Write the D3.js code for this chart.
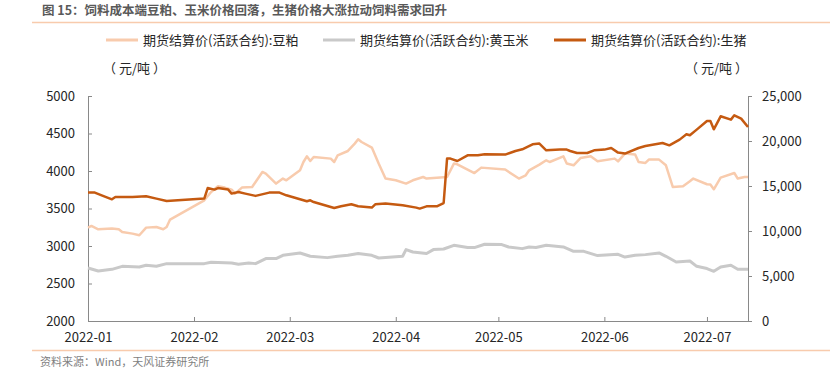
<!DOCTYPE html>
<html>
<head>
<meta charset="utf-8">
<script src="https://cdn.jsdelivr.net/npm/d3@7"></script>
<style>
  body { margin: 0; background: #fff; }
  svg { font-family: "Noto Sans CJK SC", "Noto Sans", sans-serif; }
</style>
</head>
<body>
<div id="plot_area"></div>
<script>
// Chart text
const title = '图 15：饲料成本端豆粕、玉米价格回落，生猪价格大涨拉动饲料需求回升';
const source = '资料来源：Wind，天风证券研究所';
const seriesNames = ['期货结算价(活跃合约):豆粕', '期货结算价(活跃合约):黄玉米', '期货结算价(活跃合约):生猪'];
const unitLabel = '（ 元/吨 ）';

// Axis ticks
const leftTicks = [2000, 2500, 3000, 3500, 4000, 4500, 5000];
const rightTicks = [0, 5000, 10000, 15000, 20000, 25000];
const monthTicks = ['2022-01-01', '2022-02-01', '2022-03-01', '2022-04-01', '2022-05-01', '2022-06-01', '2022-07-01'];

// Soybean meal (left axis)
const soyDates = ['01-01','01-02','01-04','01-08','01-10','01-11','01-14','01-16','01-18','01-21','01-23','01-24','01-25',
  '02-04','02-06','02-08','02-10','02-12','02-13','02-15','02-18','02-19','02-21','02-22','02-25','02-27','02-28',
  '03-02','03-04','03-05','03-06','03-07','03-08','03-13','03-14','03-15','03-18','03-20','03-21','03-22','03-25','03-27','03-29',
  '04-01','04-04','04-06','04-09','04-10','04-16','04-18','04-19','04-24','04-26',
  '05-03','05-07','05-09','05-10','05-13','05-15','05-16','05-20','05-21','05-23','05-25','05-28','05-30',
  '06-04','06-05','06-07','06-10','06-11','06-13','06-14','06-17','06-19','06-21','06-24','06-26','06-27',
  '07-01','07-02','07-03','07-05','07-09','07-10','07-12','07-13'];
const soyValues = [3245,3267,3223,3232,3223,3187,3165,3143,3245,3253,3223,3253,3352,
  3609,3720,3796,3779,3752,3699,3779,3787,3853,3987,3965,3832,3899,3876,
  3943,4009,4120,4196,4133,4187,4165,4120,4209,4267,4365,4423,4387,4312,4099,3899,
  3876,3832,3876,3920,3899,3920,4099,4089,3973,4045,
  4019,3899,3943,4009,4085,4143,4120,4196,4099,4076,4172,4196,4129,
  4165,4129,4232,4219,4120,4107,4152,4152,4076,3787,3796,3863,3899,
  3823,3819,3756,3912,3973,3899,3920,3920];

// Yellow corn (left axis)
const cornDates = ['01-01','01-04','01-08','01-11','01-16','01-18','01-21','01-24',
  '02-04','02-06','02-12','02-14','02-17','02-19','02-22','02-25','02-27',
  '03-04','03-07','03-12','03-15','03-18','03-21','03-25','03-27',
  '04-03','04-04','04-06','04-10','04-12','04-15','04-18','04-22','04-24','04-27',
  '05-02','05-04','05-08','05-10','05-12','05-15','05-20','05-23','05-26','05-30',
  '06-05','06-07','06-10','06-13','06-17','06-19','06-22','06-26','06-28',
  '07-01','07-03','07-05','07-08','07-10','07-13'];
const cornValues = [2707,2667,2689,2729,2720,2743,2729,2765,
  2765,2783,2773,2756,2773,2765,2832,2832,2876,
  2907,2863,2845,2863,2876,2899,2876,2840,
  2863,2952,2920,2899,2952,2960,3009,2979,2979,3023,
  3019,2987,2965,2987,2979,3009,2987,2929,2929,2872,
  2889,2853,2876,2885,2907,2863,2787,2800,2729,
  2699,2663,2720,2743,2689,2689];

// Live hog (right axis)
const hogDates = ['01-01','01-03','01-05','01-08','01-09','01-14','01-18','01-21','01-24',
  '02-04','02-05','02-07','02-08','02-11','02-12','02-14','02-16','02-19','02-23','02-26','02-28',
  '03-04','03-06','03-07','03-08','03-14','03-16','03-19','03-21','03-25','03-26','03-29',
  '04-03','04-07','04-08','04-10','04-13','04-15','04-16','04-17','04-19','04-22','04-25','04-27',
  '05-03','05-06','05-08','05-11','05-13','05-15','05-19','05-21','05-22','05-24','05-27','05-29',
  '06-01','06-03','06-05','06-07','06-11','06-13','06-18','06-20','06-23','06-25','06-26','06-28',
  '07-01','07-02','07-03','07-05','07-08','07-09','07-11','07-13'];
const hogValues = [14265,14265,13966,13521,13776,13776,13854,13599,13332,
  13599,14776,14599,14776,14599,14154,14332,14154,13900,14265,14265,13966,
  13521,13299,13410,13221,12554,12743,12965,12743,12599,12965,13043,
  12854,12599,12488,12743,12743,13110,18043,18043,17776,18410,18410,18521,
  18488,18888,19077,19632,19710,18965,19043,19043,18888,18665,18665,18965,
  19043,19221,18710,18599,19221,19443,19776,19521,20154,20743,20632,21265,
  22221,22221,21299,22743,22376,22854,22487,21554];

const w = 830;
const h = 368;
const plotLeft = 88;
const plotRight = 748;
const plotTop = 96;
const plotBottom = 321;

const parse = (s) => new Date('2022-' + s + 'T00:00:00');

const xScale = d3.scaleTime()
  .domain([new Date('2022-01-01T00:00:00'), new Date('2022-07-13T00:00:00')])
  .range([plotLeft, plotRight]);
const yLeft = d3.scaleLinear().domain([2000, 5000]).range([plotBottom, plotTop]);
const yRight = d3.scaleLinear().domain([0, 25000]).range([plotBottom, plotTop]);

const svg = d3.select('#plot_area')
  .append('svg')
  .attr('width', w)
  .attr('height', h);

// Title and rules
svg.append('text')
  .attr('x', 42).attr('y', 15)
  .attr('font-size', 12.5).attr('font-weight', 'bold')
  .attr('fill', '#595959')
  .text(title);
svg.append('line')
  .attr('x1', 32).attr('x2', 830).attr('y1', 22.5).attr('y2', 22.5)
  .attr('stroke', '#F8CBAD').attr('stroke-width', 1.5);
svg.append('line')
  .attr('x1', 32).attr('x2', 830).attr('y1', 350.5).attr('y2', 350.5)
  .attr('stroke', '#F8CBAD').attr('stroke-width', 1.5);
svg.append('text')
  .attr('x', 40).attr('y', 366)
  .attr('font-size', 11).attr('fill', '#7f7f7f')
  .text(source);

// Legend
const colors = ['#F8CBAD', '#C9C9C9', '#C55A11'];
const legendX = [106, 323, 554];
seriesNames.forEach(function (name, i) {
  svg.append('line')
    .attr('x1', legendX[i]).attr('x2', legendX[i] + 32)
    .attr('y1', 40).attr('y2', 40)
    .attr('stroke', colors[i]).attr('stroke-width', 3);
  svg.append('text')
    .attr('x', legendX[i] + 37).attr('y', 45)
    .attr('font-size', 13).attr('fill', '#262626')
    .text(name);
});

// Unit labels
svg.append('text').attr('x', 103).attr('y', 73)
  .attr('font-size', 13).attr('fill', '#262626').text(unitLabel);
svg.append('text').attr('x', 685).attr('y', 73)
  .attr('font-size', 13).attr('fill', '#262626').text(unitLabel);

// Axes
const axisColor = '#898989';
const gLeft = svg.append('g')
  .attr('transform', 'translate(' + plotLeft + ',0)')
  .call(d3.axisLeft(yLeft).tickValues(leftTicks).tickSize(-4).tickPadding(13).tickSizeOuter(0).tickFormat(d3.format('d')));
const gRight = svg.append('g')
  .attr('transform', 'translate(' + plotRight + ',0)')
  .call(d3.axisRight(yRight).tickValues(rightTicks).tickSize(4).tickPadding(10).tickSizeOuter(0).tickFormat(d3.format(',')));
const gBottom = svg.append('g')
  .attr('transform', 'translate(0,' + plotBottom + ')')
  .call(d3.axisBottom(xScale).tickValues(monthTicks.map((d) => new Date(d + 'T00:00:00')))
    .tickSize(-4).tickPadding(12).tickSizeOuter(0).tickFormat(d3.timeFormat('%Y-%m')));

[gLeft, gRight, gBottom].forEach(function (g) {
  g.selectAll('path, line').attr('stroke', axisColor);
  g.selectAll('text').attr('fill', '#262626').style('font-size', '13px')
    .style('font-family', '"Noto Sans CJK SC", sans-serif');
});

// Lines
function drawLine(dates, values, scale, color, width) {
  const pts = dates.map((d, i) => [parse(d), values[i]]);
  svg.append('path')
    .datum(pts)
    .attr('fill', 'none')
    .attr('stroke', color)
    .attr('stroke-width', width)
    .attr('stroke-linejoin', 'round')
    .attr('d', d3.line()
      .x((d) => xScale(d[0]))
      .y((d) => scale(d[1])));
}

drawLine(cornDates, cornValues, yLeft, colors[1], 3);
drawLine(soyDates, soyValues, yLeft, colors[0], 2.5);
drawLine(hogDates, hogValues, yRight, colors[2], 2.5);
</script>
</body>
</html>
